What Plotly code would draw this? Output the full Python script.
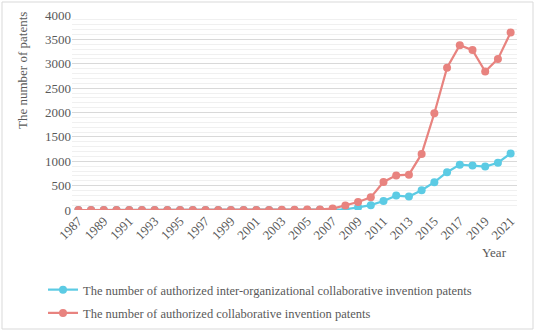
import plotly.graph_objects as go

years = list(range(1987, 2022))
collab = [0, 0, 0, 0, 0, 0, 0, 0, 0, 0, 0, 0, 0, 0, 0, 2, 3, 5, 8, 12,
          30, 90, 165, 260, 575, 710, 725, 1150, 1985, 2920, 3380, 3280, 2840, 3100, 3640]
inter_org = [0, 0, 0, 0, 0, 0, 0, 0, 0, 0, 0, 0, 0, 0, 0, 0, 0, 1, 2, 4,
             8, 15, 55, 100, 185, 295, 275, 405, 570, 775, 930, 915, 890, 970, 1160]
tick_years = list(range(1987, 2022, 2))

W, H = 535, 331
L, R, T, B = 72, 18, 15, 121
pw, ph = W - L - R, H - T - B

def px(x):
    return (x - L) / pw

def py(y):
    return (H - B - y) / ph

font = "Liberation Serif, Times New Roman, serif"
grey = "#595959"
blue = "#5ccbe4"
red = "#e8837f"

fig = go.Figure()
fig.add_trace(go.Scatter(
    x=years, y=inter_org, mode="lines+markers", legendgroup="a",
    name="The number of authorized inter-organizational collaborative invention patents",
    line=dict(color=blue, width=2.2), marker=dict(size=8, color=blue)))
fig.add_trace(go.Scatter(
    x=years, y=collab, mode="lines+markers", legendgroup="b",
    name="The number of authorized collaborative invention patents",
    line=dict(color=red, width=2.2), marker=dict(size=8, color=red)))

fig.update_layout(
    width=W, height=H, margin=dict(l=L, r=R, t=T, b=B, autoexpand=False),
    paper_bgcolor="white", plot_bgcolor="white",
    font=dict(family=font, size=13, color=grey),
    showlegend=True,
    legend=dict(x=px(43), y=py(275), xanchor="left", yanchor="top",
                font=dict(family=font, size=12.5, color=grey),
                traceorder="grouped", itemwidth=30, tracegroupgap=4,
                bgcolor="rgba(0,0,0,0)"),
    xaxis=dict(range=[1986.5, 2021.5], tickvals=tick_years, automargin=False,
               ticktext=[str(y) for y in tick_years], tickangle=-45,
               showgrid=False, zeroline=False, showline=False, ticks="",
               tickfont=dict(family=font, size=13, color=grey)),
    yaxis=dict(range=[0, 4000], dtick=500, showgrid=True, gridcolor="#d9d9d9",
               gridwidth=1, zeroline=False, showline=False, ticks="", automargin=False,
               tickfont=dict(family=font, size=13, color=grey),
               minor=dict(dtick=100, showgrid=True, gridcolor="#f0f0f0", gridwidth=1)),
)

fig.add_annotation(text="The number of patents", x=px(22), y=py(71), xref="paper", yref="paper",
                   xanchor="center", yanchor="middle", showarrow=False, textangle=-90,
                   font=dict(family=font, size=13, color=grey))

fig.add_annotation(text="Year", x=px(509), y=py(252), xref="paper", yref="paper",
                   xanchor="right", yanchor="middle", showarrow=False,
                   font=dict(family=font, size=13, color=grey))

fig.add_shape(type="rect", xref="paper", yref="paper",
              x0=px(2), x1=px(533), y0=py(329), y1=py(2),
              line=dict(color="#d9d9d9", width=1), fillcolor="rgba(0,0,0,0)", layer="below")

fig.write_html("out.html")
